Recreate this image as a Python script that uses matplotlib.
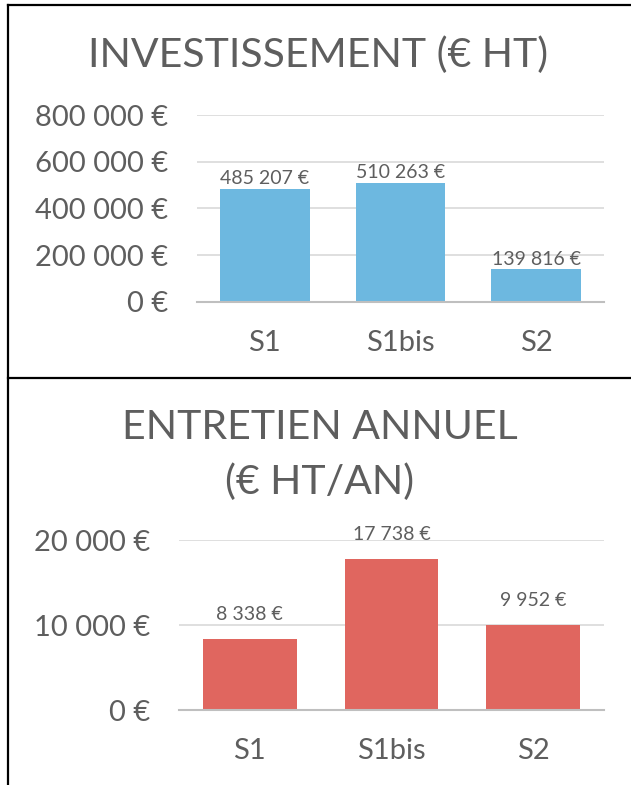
import matplotlib
matplotlib.use("Agg")
import matplotlib.pyplot as plt
from matplotlib.lines import Line2D
from matplotlib.ticker import FuncFormatter

plt.rcParams['font.family'] = ['Lato', 'DejaVu Sans']

# data
scenarios = ["S1", "S1bis", "S2"]
investissement = [485207, 510263, 139816]
entretien = [8338, 17738, 9952]
invest_ticks = [0, 200000, 400000, 600000, 800000]
entretien_ticks = [0, 10000, 20000]

GREY = "#5E5E5E"
BLUE = "#6DB8E0"
RED = "#E0665F"


def euro(v):
    return "{:,.0f} €".format(v).replace(",", " ")


def style_axes(ax, ticks):
    ax.set_ylim(ticks[0], ticks[-1])
    ax.set_yticks(ticks)
    ax.yaxis.set_major_formatter(FuncFormatter(lambda v, p: euro(v)))
    ax.set_xlim(-0.5, 2.5)
    for s in ["top", "right", "left"]:
        ax.spines[s].set_visible(False)
    ax.spines["bottom"].set_color("#BFBFBF")
    ax.spines["bottom"].set_linewidth(1.5)
    ax.grid(axis="y", color="#D9D9D9", linewidth=1.2)
    ax.set_axisbelow(True)
    ax.tick_params(axis="y", length=0, pad=21, labelsize=21, labelcolor=GREY)
    ax.tick_params(axis="x", length=0, pad=20, labelsize=21, labelcolor=GREY)


fig = plt.figure(figsize=(6.31, 7.85), dpi=100)

# top chart
ax1 = fig.add_axes([0.3122, 0.6153, 0.645, 0.2382])
ax1.bar(scenarios, investissement, width=0.66, color=BLUE)
style_axes(ax1, invest_ticks)
for i, v in enumerate(investissement):
    ax1.text(i, v + 42000, euro(v), ha="center", va="center", fontsize=14, color=GREY)
fig.text(0.504, 0.930, "INVESTISSEMENT (€ HT)", ha="center", va="center",
         fontsize=29.5, color=GREY)

# bottom chart
ax2 = fig.add_axes([0.2837, 0.0955, 0.6735, 0.2166])
ax2.bar(scenarios, entretien, width=0.66, color=RED)
style_axes(ax2, entretien_ticks)
for i, v in enumerate(entretien):
    ax2.text(i, v + 2900, euro(v), ha="center", va="center", fontsize=14, color=GREY)
fig.text(0.507, 0.455, "ENTRETIEN ANNUEL", ha="center", va="center",
         fontsize=29.5, color=GREY)
fig.text(0.507, 0.386, "(€ HT/AN)", ha="center", va="center",
         fontsize=29.5, color=GREY)

# frame lines
fig.add_artist(Line2D([0.013, 0.013], [0, 0.993], color="black", linewidth=1.6))
fig.add_artist(Line2D([0.013, 1], [0.993, 0.993], color="black", linewidth=1.6))
fig.add_artist(Line2D([0.013, 1], [0.518, 0.518], color="black", linewidth=1.6))

fig.savefig("out.png", dpi=100)
